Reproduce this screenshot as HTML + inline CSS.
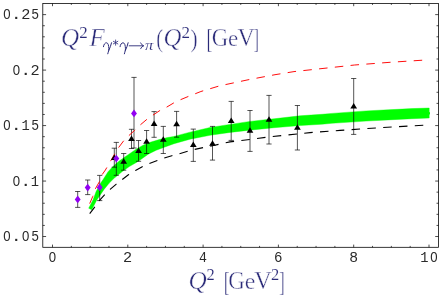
<!DOCTYPE html>
<html><head><meta charset="utf-8"><title>plot</title>
<style>
html,body{margin:0;padding:0;background:#fff;}
body{width:440px;height:297px;overflow:hidden;position:relative;font-family:"Liberation Sans",sans-serif;}
svg{position:absolute;left:0;top:0;display:block;}
</style></head><body>
<svg style="will-change:transform" width="440" height="297" viewBox="0 0 440 297">
<rect x="0" y="0" width="440" height="297" fill="#ffffff"/>
<path d="M88.70 208.20 L91.00 203.80 L93.10 199.70 L96.10 191.60 L101.20 182.30 L103.10 179.60 L108.10 171.70 L112.70 166.70 L119.20 161.10 L126.30 155.90 L130.00 153.40 L136.10 149.20 L143.10 145.20 L150.20 142.30 L159.30 139.60 L167.40 137.60 L174.00 136.40 L190.00 132.15 L210.00 127.50 L230.00 124.40 L250.00 121.40 L274.00 118.80 L300.00 115.80 L322.00 114.30 L332.00 113.40 L366.00 110.90 L388.00 109.80 L412.00 108.60 L429.20 108.00 L429.20 118.00 L412.00 118.70 L388.00 119.90 L366.00 121.10 L332.00 123.30 L322.00 124.20 L300.00 125.60 L274.00 127.70 L252.00 129.90 L230.00 132.40 L210.00 135.30 L190.00 139.20 L174.00 143.70 L164.30 147.20 L156.30 150.20 L148.20 154.20 L140.10 160.00 L136.40 162.40 L129.30 166.60 L122.30 171.50 L116.20 176.60 L114.30 178.10 L109.25 183.10 L104.20 189.20 L99.20 196.50 L96.80 200.10 L91.70 209.70 Z" fill="#00ff00" stroke="#00ff00" stroke-width="0.4" stroke-linejoin="round"/>
<rect x="429.0" y="112.2" width="1.0" height="2.2" fill="#00ff00"/>
<path d="M114.30 148.20 V167.20 M111.70 148.20 H116.90 M111.70 167.20 H116.90" fill="none" stroke="#000" stroke-width="0.67"/>
<path d="M123.70 153.50 V170.20 M121.10 153.50 H126.30 M121.10 170.20 H126.30" fill="none" stroke="#000" stroke-width="0.67"/>
<path d="M131.50 129.30 V148.50 M128.90 129.30 H134.10 M128.90 148.50 H134.10" fill="none" stroke="#000" stroke-width="0.67"/>
<path d="M138.55 140.50 V161.30 M135.95 140.50 H141.15 M135.95 161.30 H141.15" fill="none" stroke="#000" stroke-width="0.67"/>
<path d="M146.60 130.50 V153.50 M144.00 130.50 H149.20 M144.00 153.50 H149.20" fill="none" stroke="#000" stroke-width="0.67"/>
<path d="M154.10 111.60 V137.30 M151.50 111.60 H156.70 M151.50 137.30 H156.70" fill="none" stroke="#000" stroke-width="0.67"/>
<path d="M163.30 126.40 V153.50 M160.70 126.40 H165.90 M160.70 153.50 H165.90" fill="none" stroke="#000" stroke-width="0.67"/>
<path d="M176.60 111.40 V137.20 M174.00 111.40 H179.20 M174.00 137.20 H179.20" fill="none" stroke="#000" stroke-width="0.67"/>
<path d="M193.30 129.10 V161.40 M190.70 129.10 H195.90 M190.70 161.40 H195.90" fill="none" stroke="#000" stroke-width="0.67"/>
<path d="M212.50 126.40 V160.10 M209.90 126.40 H215.10 M209.90 160.10 H215.10" fill="none" stroke="#000" stroke-width="0.67"/>
<path d="M231.20 101.40 V140.40 M228.60 101.40 H233.80 M228.60 140.40 H233.80" fill="none" stroke="#000" stroke-width="0.67"/>
<path d="M250.00 110.50 V151.40 M247.40 110.50 H252.60 M247.40 151.40 H252.60" fill="none" stroke="#000" stroke-width="0.67"/>
<path d="M269.00 95.40 V144.00 M266.40 95.40 H271.60 M266.40 144.00 H271.60" fill="none" stroke="#000" stroke-width="0.67"/>
<path d="M297.40 105.50 V150.00 M294.80 105.50 H300.00 M294.80 150.00 H300.00" fill="none" stroke="#000" stroke-width="0.67"/>
<path d="M353.70 78.50 V134.40 M351.10 78.50 H356.30 M351.10 134.40 H356.30" fill="none" stroke="#000" stroke-width="0.67"/>
<path d="M77.70 191.50 V207.40 M75.10 191.50 H80.30 M75.10 207.40 H80.30" fill="none" stroke="#000" stroke-width="0.67"/>
<path d="M87.70 180.00 V194.60 M85.10 180.00 H90.30 M85.10 194.60 H90.30" fill="none" stroke="#000" stroke-width="0.67"/>
<path d="M99.70 175.40 V200.60 M97.10 175.40 H102.30 M97.10 200.60 H102.30" fill="none" stroke="#000" stroke-width="0.67"/>
<path d="M116.30 142.40 V175.30 M113.70 142.40 H118.90 M113.70 175.30 H118.90" fill="none" stroke="#000" stroke-width="0.67"/>
<path d="M134.00 77.40 V148.00 M131.40 77.40 H136.60 M131.40 148.00 H136.60" fill="none" stroke="#000" stroke-width="0.67"/>
<path d="M89.70 203.60 L92.70 196.60 L95.10 189.20 L99.20 182.10 L102.20 174.50 L105.40 170.00 L111.00 160.30 L114.90 153.60 L118.50 147.70 L123.60 140.90 L130.00 134.50 L134.50 130.50 L140.30 124.90 L146.80 119.40 L152.80 115.20 L159.90 110.50 L166.40 107.30 L173.60 103.00 L180.50 99.70 L188.20 96.50 L200.90 91.50 L219.40 85.90 L248.00 79.80 L275.00 74.70 L294.00 71.60 L340.00 66.60 L354.60 65.00 L390.00 62.30 L422.50 60.20 L428.60 59.85" fill="none" stroke="#ff0000" stroke-width="0.95" stroke-dasharray="8.5 7.33"/>
<path d="M89.70 213.70 L94.50 207.40 L99.30 200.60 L104.50 194.80 L110.10 189.40 L116.30 184.10 L122.20 179.60 L128.40 174.80 L135.50 170.40 L142.70 166.40 L149.10 163.60 L157.30 160.50 L163.60 158.20 L171.80 155.70 L179.10 153.80 L193.30 149.70 L212.40 145.70 L230.00 141.90 L250.00 139.40 L270.00 136.80 L310.00 132.60 L340.00 130.40 L380.00 127.70 L423.00 125.20 L428.60 124.95" fill="none" stroke="#000000" stroke-width="1.1" stroke-dasharray="8.5 7.33"/>
<path d="M114.30 154.40 L117.65 159.90 L110.95 159.90 Z" fill="#000"/>
<path d="M123.70 158.30 L127.05 163.80 L120.35 163.80 Z" fill="#000"/>
<path d="M131.50 135.45 L134.85 140.95 L128.15 140.95 Z" fill="#000"/>
<path d="M138.55 147.55 L141.90 153.05 L135.20 153.05 Z" fill="#000"/>
<path d="M146.60 138.35 L149.95 143.85 L143.25 143.85 Z" fill="#000"/>
<path d="M154.10 120.50 L157.45 126.00 L150.75 126.00 Z" fill="#000"/>
<path d="M163.30 136.35 L166.65 141.85 L159.95 141.85 Z" fill="#000"/>
<path d="M176.60 120.80 L179.95 126.30 L173.25 126.30 Z" fill="#000"/>
<path d="M193.30 141.60 L196.65 147.10 L189.95 147.10 Z" fill="#000"/>
<path d="M212.50 140.30 L215.85 145.80 L209.15 145.80 Z" fill="#000"/>
<path d="M231.20 117.40 L234.55 122.90 L227.85 122.90 Z" fill="#000"/>
<path d="M250.00 127.20 L253.35 132.70 L246.65 132.70 Z" fill="#000"/>
<path d="M269.00 116.30 L272.35 121.80 L265.65 121.80 Z" fill="#000"/>
<path d="M297.40 124.30 L300.75 129.80 L294.05 129.80 Z" fill="#000"/>
<path d="M353.70 102.90 L357.05 108.40 L350.35 108.40 Z" fill="#000"/>
<path d="M77.70 195.50 L80.65 199.40 L77.70 203.30 L74.75 199.40 Z" fill="#9200f2"/>
<path d="M87.70 183.70 L90.65 187.60 L87.70 191.50 L84.75 187.60 Z" fill="#9200f2"/>
<path d="M99.70 183.50 L102.65 187.40 L99.70 191.30 L96.75 187.40 Z" fill="#9200f2"/>
<path d="M116.30 154.70 L119.25 158.60 L116.30 162.50 L113.35 158.60 Z" fill="#9200f2"/>
<path d="M134.00 109.50 L136.95 113.40 L134.00 117.30 L131.05 113.40 Z" fill="#9200f2"/>
<rect x="42.80" y="3.50" width="395.70" height="243.80" fill="none" stroke="#000" stroke-width="0.78"/>
<path d="M52.50 247.30 v-2.70 M52.50 3.50 v2.70 M71.33 247.30 v-1.40 M71.33 3.50 v1.40 M90.15 247.30 v-1.40 M90.15 3.50 v1.40 M108.97 247.30 v-1.40 M108.97 3.50 v1.40 M127.80 247.30 v-2.70 M127.80 3.50 v2.70 M146.62 247.30 v-1.40 M146.62 3.50 v1.40 M165.45 247.30 v-1.40 M165.45 3.50 v1.40 M184.28 247.30 v-1.40 M184.28 3.50 v1.40 M203.10 247.30 v-2.70 M203.10 3.50 v2.70 M221.92 247.30 v-1.40 M221.92 3.50 v1.40 M240.75 247.30 v-1.40 M240.75 3.50 v1.40 M259.57 247.30 v-1.40 M259.57 3.50 v1.40 M278.40 247.30 v-2.70 M278.40 3.50 v2.70 M297.23 247.30 v-1.40 M297.23 3.50 v1.40 M316.05 247.30 v-1.40 M316.05 3.50 v1.40 M334.88 247.30 v-1.40 M334.88 3.50 v1.40 M353.70 247.30 v-2.70 M353.70 3.50 v2.70 M372.52 247.30 v-1.40 M372.52 3.50 v1.40 M391.35 247.30 v-1.40 M391.35 3.50 v1.40 M410.18 247.30 v-1.40 M410.18 3.50 v1.40 M429.00 247.30 v-2.70 M429.00 3.50 v2.70 M42.80 236.53 h3.30 M438.50 236.53 h-3.30 M42.80 225.43 h2.00 M438.50 225.43 h-2.00 M42.80 214.33 h2.00 M438.50 214.33 h-2.00 M42.80 203.24 h2.00 M438.50 203.24 h-2.00 M42.80 192.15 h2.00 M438.50 192.15 h-2.00 M42.80 181.05 h3.30 M438.50 181.05 h-3.30 M42.80 169.95 h2.00 M438.50 169.95 h-2.00 M42.80 158.86 h2.00 M438.50 158.86 h-2.00 M42.80 147.76 h2.00 M438.50 147.76 h-2.00 M42.80 136.67 h2.00 M438.50 136.67 h-2.00 M42.80 125.58 h3.30 M438.50 125.58 h-3.30 M42.80 114.48 h2.00 M438.50 114.48 h-2.00 M42.80 103.38 h2.00 M438.50 103.38 h-2.00 M42.80 92.29 h2.00 M438.50 92.29 h-2.00 M42.80 81.19 h2.00 M438.50 81.19 h-2.00 M42.80 70.10 h3.30 M438.50 70.10 h-3.30 M42.80 59.00 h2.00 M438.50 59.00 h-2.00 M42.80 47.91 h2.00 M438.50 47.91 h-2.00 M42.80 36.81 h2.00 M438.50 36.81 h-2.00 M42.80 25.72 h2.00 M438.50 25.72 h-2.00 M42.80 14.62 h3.30 M438.50 14.62 h-3.30" fill="none" stroke="#000" stroke-width="0.7"/>
<g opacity="0.999">
<text x="48.74" y="262.50" font-family='"Liberation Sans"' font-style="normal" font-size="13.90px" fill="#2a2a2a" transform="translate(48.74 262.50) scale(0.9481 1.0000) translate(-48.74 -262.50)">0</text>
<text x="123.13" y="262.50" font-family='"Liberation Mono"' font-style="normal" font-size="14.60px" fill="#2a2a2a" transform="translate(123.13 262.50) scale(1.0446 1.0000) translate(-123.13 -262.50)">2</text>
<text x="199.03" y="262.50" font-family='"Liberation Mono"' font-style="normal" font-size="14.60px" fill="#2a2a2a" transform="translate(199.03 262.50) scale(0.9059 1.0000) translate(-199.03 -262.50)">4</text>
<text x="274.01" y="262.50" font-family='"Liberation Mono"' font-style="normal" font-size="14.60px" fill="#2a2a2a" transform="translate(274.01 262.50) scale(0.9648 1.0000) translate(-274.01 -262.50)">6</text>
<text x="349.20" y="262.50" font-family='"Liberation Mono"' font-style="normal" font-size="14.60px" fill="#2a2a2a" transform="translate(349.20 262.50) scale(1.0072 1.0000) translate(-349.20 -262.50)">8</text>
<text x="420.23" y="262.50" font-family='"Liberation Mono"' font-style="normal" font-size="14.60px" fill="#2a2a2a" transform="translate(420.23 262.50) scale(0.9428 1.0000) translate(-420.23 -262.50)">1</text>
<text x="430.24" y="262.50" font-family='"Liberation Sans"' font-style="normal" font-size="13.90px" fill="#2a2a2a" transform="translate(430.24 262.50) scale(0.9481 1.0000) translate(-430.24 -262.50)">0</text>
<text x="3.30" y="241.28" font-family='"Liberation Sans"' font-style="normal" font-size="13.90px" fill="#2a2a2a" transform="translate(3.30 241.28) scale(0.9481 1.0000) translate(-3.30 -241.28)">0</text>
<text x="10.86" y="241.28" font-family='"Liberation Mono"' font-style="normal" font-size="14.60px" fill="#2a2a2a" transform="translate(10.86 241.28) scale(1.2535 1.0000) translate(-10.86 -241.28)">.</text>
<text x="22.06" y="241.28" font-family='"Liberation Sans"' font-style="normal" font-size="13.90px" fill="#2a2a2a" transform="translate(22.06 241.28) scale(0.9481 1.0000) translate(-22.06 -241.28)">0</text>
<text x="31.18" y="241.28" font-family='"Liberation Mono"' font-style="normal" font-size="14.60px" fill="#2a2a2a" transform="translate(31.18 241.28) scale(0.8957 1.0000) translate(-31.18 -241.28)">5</text>
<text x="12.68" y="185.80" font-family='"Liberation Sans"' font-style="normal" font-size="13.90px" fill="#2a2a2a" transform="translate(12.68 185.80) scale(0.9481 1.0000) translate(-12.68 -185.80)">0</text>
<text x="20.24" y="185.80" font-family='"Liberation Mono"' font-style="normal" font-size="14.60px" fill="#2a2a2a" transform="translate(20.24 185.80) scale(1.2535 1.0000) translate(-20.24 -185.80)">.</text>
<text x="30.81" y="185.80" font-family='"Liberation Mono"' font-style="normal" font-size="14.60px" fill="#2a2a2a" transform="translate(30.81 185.80) scale(0.9428 1.0000) translate(-30.81 -185.80)">1</text>
<text x="3.30" y="130.33" font-family='"Liberation Sans"' font-style="normal" font-size="13.90px" fill="#2a2a2a" transform="translate(3.30 130.33) scale(0.9481 1.0000) translate(-3.30 -130.33)">0</text>
<text x="10.86" y="130.33" font-family='"Liberation Mono"' font-style="normal" font-size="14.60px" fill="#2a2a2a" transform="translate(10.86 130.33) scale(1.2535 1.0000) translate(-10.86 -130.33)">.</text>
<text x="21.43" y="130.33" font-family='"Liberation Mono"' font-style="normal" font-size="14.60px" fill="#2a2a2a" transform="translate(21.43 130.33) scale(0.9428 1.0000) translate(-21.43 -130.33)">1</text>
<text x="31.18" y="130.33" font-family='"Liberation Mono"' font-style="normal" font-size="14.60px" fill="#2a2a2a" transform="translate(31.18 130.33) scale(0.8957 1.0000) translate(-31.18 -130.33)">5</text>
<text x="12.68" y="74.85" font-family='"Liberation Sans"' font-style="normal" font-size="13.90px" fill="#2a2a2a" transform="translate(12.68 74.85) scale(0.9481 1.0000) translate(-12.68 -74.85)">0</text>
<text x="20.24" y="74.85" font-family='"Liberation Mono"' font-style="normal" font-size="14.60px" fill="#2a2a2a" transform="translate(20.24 74.85) scale(1.2535 1.0000) translate(-20.24 -74.85)">.</text>
<text x="30.53" y="74.85" font-family='"Liberation Mono"' font-style="normal" font-size="14.60px" fill="#2a2a2a" transform="translate(30.53 74.85) scale(1.0446 1.0000) translate(-30.53 -74.85)">2</text>
<text x="3.30" y="19.38" font-family='"Liberation Sans"' font-style="normal" font-size="13.90px" fill="#2a2a2a" transform="translate(3.30 19.38) scale(0.9481 1.0000) translate(-3.30 -19.38)">0</text>
<text x="10.86" y="19.38" font-family='"Liberation Mono"' font-style="normal" font-size="14.60px" fill="#2a2a2a" transform="translate(10.86 19.38) scale(1.2535 1.0000) translate(-10.86 -19.38)">.</text>
<text x="21.15" y="19.38" font-family='"Liberation Mono"' font-style="normal" font-size="14.60px" fill="#2a2a2a" transform="translate(21.15 19.38) scale(1.0446 1.0000) translate(-21.15 -19.38)">2</text>
<text x="31.18" y="19.38" font-family='"Liberation Mono"' font-style="normal" font-size="14.60px" fill="#2a2a2a" transform="translate(31.18 19.38) scale(0.8957 1.0000) translate(-31.18 -19.38)">5</text>
</g>
<g opacity="0.999">
<text stroke="#fff" stroke-width="0.45" x="61.01" y="46.35" font-family='"Liberation Serif"' font-style="italic" font-size="25.00px" fill="#2a2a78" transform="translate(61.01 46.35) scale(1.0055 0.9998) translate(-61.01 -46.35)">Q</text>
<text stroke="#fff" stroke-width="0.12" x="79.35" y="37.70" font-family='"Liberation Serif"' font-style="normal" font-size="16.00px" fill="#2a2a78" transform="translate(79.35 37.70) scale(1.0602 0.9817) translate(-79.35 -37.70)">2</text>
<text stroke="#fff" stroke-width="0.45" x="89.53" y="46.35" font-family='"Liberation Serif"' font-style="italic" font-size="25.00px" fill="#2a2a78" transform="translate(89.53 46.35) scale(0.9992 0.9866) translate(-89.53 -46.35)">F</text>
<text stroke="#fff" stroke-width="0.12" x="145.01" y="49.80" font-family='"Liberation Serif"' font-style="italic" font-size="16.50px" fill="#2a2a78" transform="translate(145.01 49.80) scale(1.0051 0.9244) translate(-145.01 -49.80)">π</text>
<text stroke="#fff" stroke-width="0.45" x="156.21" y="46.55" font-family='"Liberation Serif"' font-style="normal" font-size="25.00px" fill="#2a2a78" transform="translate(156.21 46.55) scale(0.8099 1.0058) translate(-156.21 -46.55)">(</text>
<text stroke="#fff" stroke-width="0.45" x="163.53" y="46.35" font-family='"Liberation Serif"' font-style="italic" font-size="25.00px" fill="#2a2a78" transform="translate(163.53 46.35) scale(0.9932 0.9998) translate(-163.53 -46.35)">Q</text>
<text stroke="#fff" stroke-width="0.12" x="181.55" y="37.70" font-family='"Liberation Serif"' font-style="normal" font-size="16.00px" fill="#2a2a78" transform="translate(181.55 37.70) scale(1.0602 0.9817) translate(-181.55 -37.70)">2</text>
<text stroke="#fff" stroke-width="0.45" x="190.51" y="46.55" font-family='"Liberation Serif"' font-style="normal" font-size="25.00px" fill="#2a2a78" transform="translate(190.51 46.55) scale(0.8566 1.0058) translate(-190.51 -46.55)">)</text>
<text stroke="#fff" stroke-width="0.45" x="206.50" y="48.34" font-family='"Liberation Serif"' font-style="normal" font-size="25.00px" fill="#2a2a78" transform="translate(206.50 48.34) scale(0.7006 1.1237) translate(-206.50 -48.34)">[</text>
<text stroke="#fff" stroke-width="0.45" x="211.67" y="46.35" font-family='"Liberation Serif"' font-style="normal" font-size="25.00px" fill="#2a2a78" transform="translate(211.67 46.35) scale(0.9109 1.0059) translate(-211.67 -46.35)">G</text>
<text stroke="#fff" stroke-width="0.45" x="228.00" y="46.35" font-family='"Liberation Serif"' font-style="normal" font-size="25.00px" fill="#2a2a78" transform="translate(228.00 46.35) scale(0.9186 0.9126) translate(-228.00 -46.35)">e</text>
<text stroke="#fff" stroke-width="0.45" x="237.53" y="46.35" font-family='"Liberation Serif"' font-style="normal" font-size="25.00px" fill="#2a2a78" transform="translate(237.53 46.35) scale(0.9490 0.9866) translate(-237.53 -46.35)">V</text>
<text stroke="#fff" stroke-width="0.45" x="253.83" y="48.34" font-family='"Liberation Serif"' font-style="normal" font-size="25.00px" fill="#2a2a78" transform="translate(253.83 48.34) scale(0.6288 1.1237) translate(-253.83 -48.34)">]</text>
<path transform="translate(0.00 0)" d="M103.45 46.7 C103.7 44.4 105.0 42.75 106.5 42.8 C108.2 42.9 108.75 45.6 108.85 48.6 L108.8 50.2 C108.5 51.6 107.9 52.9 107.75 53.8 M111.55 42.75 C110.9 45.4 110.0 47.9 108.8 50.4" stroke="#2a2a78" stroke-width="1.0" fill="none" stroke-linecap="round" stroke-linejoin="round"/>
<path transform="translate(16.60 0)" d="M103.45 46.7 C103.7 44.4 105.0 42.75 106.5 42.8 C108.2 42.9 108.75 45.6 108.85 48.6 L108.8 50.2 C108.5 51.6 107.9 52.9 107.75 53.8 M111.55 42.75 C110.9 45.4 110.0 47.9 108.8 50.4" stroke="#2a2a78" stroke-width="1.0" fill="none" stroke-linecap="round" stroke-linejoin="round"/>
<path d="M115.60 40.00 L115.60 45.20 M113.35 41.30 L117.85 43.90 M117.85 41.30 L113.35 43.90" stroke="#2a2a78" stroke-width="0.80" fill="none" stroke-linecap="round"/>
<path d="M129.2 45.8 H143.3 M140.6 42.9 Q141.4 45.0 143.7 45.8 Q141.4 46.6 140.6 48.7" stroke="#2a2a78" stroke-width="0.9" fill="none" stroke-linecap="round" stroke-linejoin="round"/>
</g>
<g opacity="0.999">
<text stroke="#fff" stroke-width="0.45" x="188.40" y="288.70" font-family='"Liberation Serif"' font-style="italic" font-size="25.00px" fill="#2a2a78" transform="translate(188.40 288.70) scale(1.0117 1.0149) translate(-188.40 -288.70)">Q</text>
<text stroke="#fff" stroke-width="0.12" x="206.48" y="280.50" font-family='"Liberation Serif"' font-style="normal" font-size="16.00px" fill="#2a2a78" transform="translate(206.48 280.50) scale(1.0290 0.9912) translate(-206.48 -280.50)">2</text>
<text stroke="#fff" stroke-width="0.45" x="223.70" y="290.73" font-family='"Liberation Serif"' font-style="normal" font-size="25.00px" fill="#2a2a78" transform="translate(223.70 290.73) scale(0.7006 1.1261) translate(-223.70 -290.73)">[</text>
<text stroke="#fff" stroke-width="0.45" x="228.31" y="288.70" font-family='"Liberation Serif"' font-style="normal" font-size="25.00px" fill="#2a2a78" transform="translate(228.31 288.70) scale(0.9201 1.0089) translate(-228.31 -288.70)">G</text>
<text stroke="#fff" stroke-width="0.45" x="244.72" y="288.70" font-family='"Liberation Serif"' font-style="normal" font-size="25.00px" fill="#2a2a78" transform="translate(244.72 288.70) scale(0.9565 0.9083) translate(-244.72 -288.70)">e</text>
<text stroke="#fff" stroke-width="0.45" x="254.33" y="288.70" font-family='"Liberation Serif"' font-style="normal" font-size="25.00px" fill="#2a2a78" transform="translate(254.33 288.70) scale(0.9718 0.9957) translate(-254.33 -288.70)">V</text>
<text stroke="#fff" stroke-width="0.12" x="271.08" y="280.20" font-family='"Liberation Serif"' font-style="normal" font-size="16.00px" fill="#2a2a78" transform="translate(271.08 280.20) scale(1.0290 0.9912) translate(-271.08 -280.20)">2</text>
<text stroke="#fff" stroke-width="0.45" x="279.32" y="290.73" font-family='"Liberation Serif"' font-style="normal" font-size="25.00px" fill="#2a2a78" transform="translate(279.32 290.73) scale(0.6467 1.1261) translate(-279.32 -290.73)">]</text>
</g>
</svg>
</body></html>
